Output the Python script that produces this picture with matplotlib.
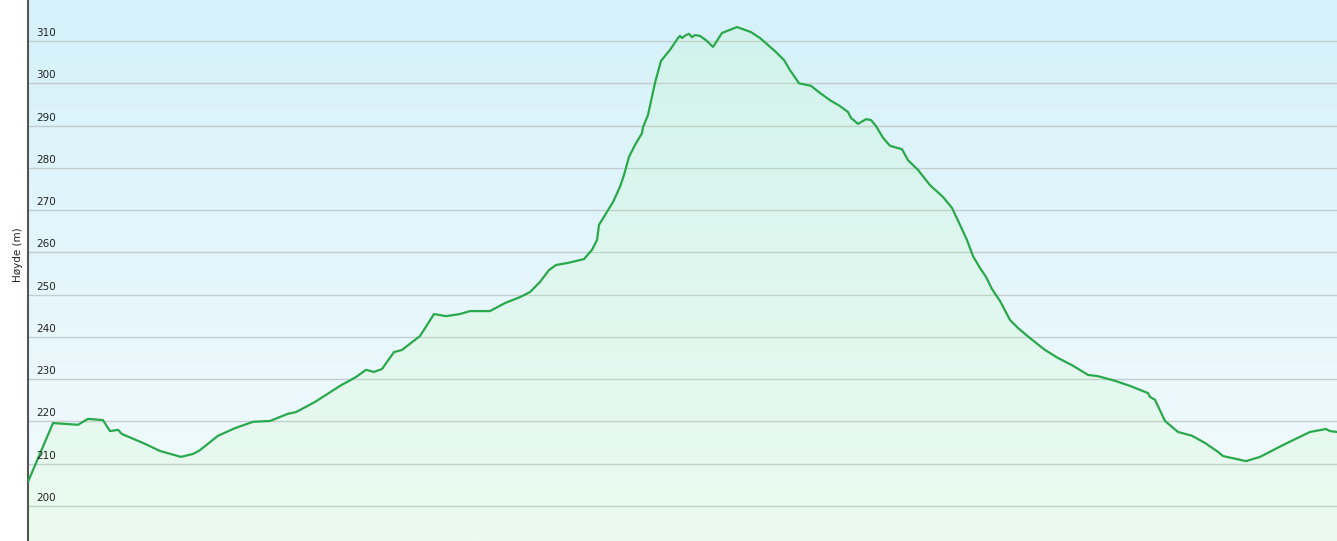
import numpy as np
import matplotlib
matplotlib.use("Agg")
import matplotlib.pyplot as plt
from matplotlib.colors import LinearSegmentedColormap
import matplotlib.transforms as mtransforms

# distance along route (arbitrary units) and elevation (m)
distance = [0, 25, 50, 60, 75, 82, 90, 94, 115, 132, 153, 165, 172, 190, 207, 225, 242,
            260, 268, 287, 312, 328, 338, 346, 354, 366, 374, 392, 406, 418, 432, 442,
            462, 477, 492, 502, 512, 521, 528, 540, 556, 564, 569, 571, 577, 585, 592,
            596, 601, 607, 614, 615, 620, 627, 633, 642, 650, 652, 654, 658, 661, 664,
            667, 672, 678, 685, 694, 709, 723, 732, 747, 756, 762, 771, 783, 792, 802,
            812, 820, 823, 830, 838, 843, 848, 855, 862, 874, 880, 890, 902, 915, 924,
            932, 939, 945, 952, 958, 964, 972, 982, 990, 1002, 1017, 1030, 1044, 1060,
            1070, 1087, 1102, 1120, 1122, 1127, 1137, 1150, 1164, 1177, 1190, 1195,
            1218, 1232, 1255, 1282, 1298, 1302, 1309]
elevation = [205.7, 219.6, 219.2, 220.6, 220.3, 217.7, 218.0, 217.0, 214.9, 213.0,
             211.6, 212.3, 213.2, 216.6, 218.4, 219.9, 220.1, 221.8, 222.2, 224.6,
             228.4, 230.5, 232.2, 231.7, 232.4, 236.4, 236.9, 240.2, 245.4, 244.9,
             245.4, 246.1, 246.1, 248.0, 249.4, 250.6, 253.0, 255.8, 257.0, 257.5,
             258.4, 260.6, 262.9, 266.5, 268.8, 271.9, 275.5, 278.3, 282.6, 285.4,
             288.2, 289.6, 292.5, 300.1, 305.3, 307.9, 310.7, 311.2, 310.7, 311.4,
             311.7, 310.9, 311.4, 311.2, 310.2, 308.6, 311.9, 313.3, 312.1, 310.7,
             307.6, 305.5, 303.1, 300.0, 299.4, 297.7, 296.0, 294.6, 293.2, 291.8,
             290.4, 291.5, 291.3, 289.9, 287.1, 285.2, 284.4, 281.8, 279.5, 275.9,
             273.1, 270.5, 266.5, 262.9, 259.1, 256.3, 254.2, 251.3, 248.5, 244.0,
             242.1, 239.7, 236.9, 235.0, 233.3, 231.0, 230.7, 229.6, 228.4, 226.7,
             225.8, 225.1, 220.1, 217.5, 216.6, 214.9, 212.8, 211.8, 210.6, 211.6,
             214.4, 217.5, 218.2, 217.7, 217.5]
yticks = [200, 210, 220, 230, 240, 250, 260, 270, 280, 290, 300, 310]
ylabel = "Høyde (m)"

fig = plt.figure(figsize=(13.37, 5.41), dpi=100)
ax = fig.add_axes([28 / 1337, 0, 1 - 28 / 1337, 1])
ymin, ymax = 191.7, 319.7
ax.set_xlim(distance[0], distance[-1])
ax.set_ylim(ymin, ymax)

# background gradient
cmap = LinearSegmentedColormap.from_list("bg", ["#f4fbfd", "#d5f1fa"])
grad = np.linspace(0, 1, 256).reshape(-1, 1)
ax.imshow(grad, aspect="auto", cmap=cmap, origin="lower",
          extent=[distance[0], distance[-1], ymin, ymax], zorder=0)

for t in yticks:
    ax.axhline(t, color="#c2cece", lw=1.0, zorder=1)

ax.fill_between(distance, elevation, ymin, color="#b4ff96", alpha=0.12, lw=0, zorder=2)
ax.plot(distance, elevation, color="#2aa84c", lw=1.6, zorder=3)

ax.set_xticks([])
ax.set_yticks([])
trans = mtransforms.blended_transform_factory(ax.transAxes, ax.transData)
offset = mtransforms.ScaledTranslation(8 / 100, 3 / 100, fig.dpi_scale_trans)
for t in yticks:
    ax.text(0, t, str(t), transform=trans + offset, ha="left", va="bottom",
            fontsize=7.5, color="#222222", zorder=4)

for s in ["top", "right", "bottom"]:
    ax.spines[s].set_visible(False)
ax.spines["left"].set_color("#555555")
ax.spines["left"].set_linewidth(1.5)

fig.text(18 / 1337, 1 - 255 / 541, ylabel, rotation=90, ha="center", va="center",
         fontsize=7.5, color="#222222")

fig.savefig("out.png", dpi=100)
